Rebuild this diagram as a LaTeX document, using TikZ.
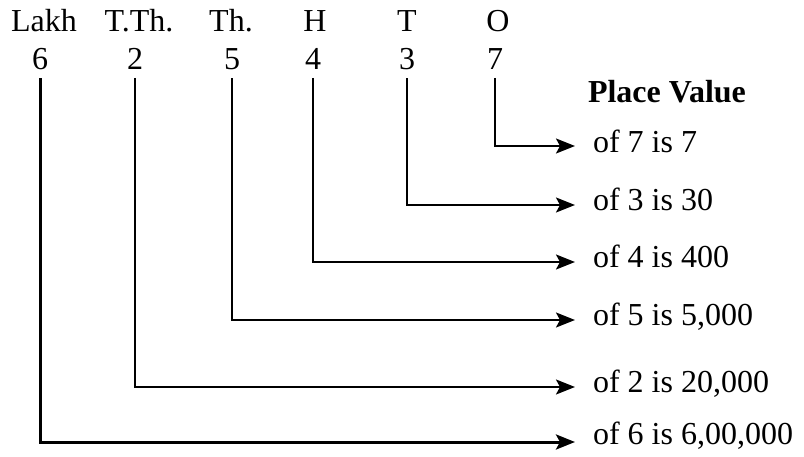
\documentclass[tikz,border=0pt]{standalone}
\usepackage{fontspec}
\setmainfont{Liberation Serif}
\usetikzlibrary{arrows.meta}
\begin{document}
\begin{tikzpicture}[x=1pt,y=-1pt,
  txt/.style={inner sep=0pt,outer sep=0pt,font=\fontsize{32}{38}\selectfont},
  head/.style={txt,anchor=base},
  digit/.style={txt,anchor=base},
  lbl/.style={txt,anchor=base west},
  conn/.style={line width=2.2pt,-{Stealth[length=19pt,width=15pt,inset=4pt]}},
  connthick/.style={conn,line width=3pt}]
\useasboundingbox (0,0) rectangle (804,457);
% headers
\node[head] (hL) at (44,32) {Lakh};
\node[head] (hTT) at (139,32) {T.Th.};
\node[head] (hTh) at (231,32) {Th.};
\node[head] (hH) at (315,32) {H};
\node[head] (hT) at (407,32) {T};
\node[head] (hO) at (498,32) {O};
% digits
\node[digit] (n6) at (40,70) {6};
\node[digit] (n2) at (135,70) {2};
\node[digit] (n5) at (232,70) {5};
\node[digit] (n4) at (313,70) {4};
\node[digit] (n3) at (407,70) {3};
\node[digit] (n7) at (495,70) {7};
% title
\node[lbl,font=\fontsize{32}{38}\selectfont\bfseries] (pv) at (588,103) {Place Value};
% labels
\node[lbl] (l7) at (593,153) {of 7 is 7};
\node[lbl] (l3) at (593,211) {of 3 is 30};
\node[lbl] (l4) at (593,268) {of 4 is 400};
\node[lbl] (l5) at (593,326) {of 5 is 5,000};
\node[lbl] (l2) at (593,392) {of 2 is 20,000};
\node[lbl] (l6) at (593,444) {of 6 is 6,00,000};
% arrow ends
\coordinate (e7) at (575,146);
\coordinate (e3) at (575,205);
\coordinate (e4) at (575,262);
\coordinate (e5) at (575,320);
\coordinate (e2) at (575,387);
\coordinate (e6) at (575,442);
% connectors
\draw[conn] ([yshift=-8pt]n7.south) |- (e7);
\draw[conn] ([yshift=-8pt]n3.south) |- (e3);
\draw[conn] ([yshift=-8pt]n4.south) |- (e4);
\draw[conn] ([yshift=-8pt]n5.south) |- (e5);
\draw[conn] ([yshift=-8pt]n2.south) |- (e2);
\draw[connthick] ([yshift=-8pt]n6.south) |- (e6);
\end{tikzpicture}
\end{document}
